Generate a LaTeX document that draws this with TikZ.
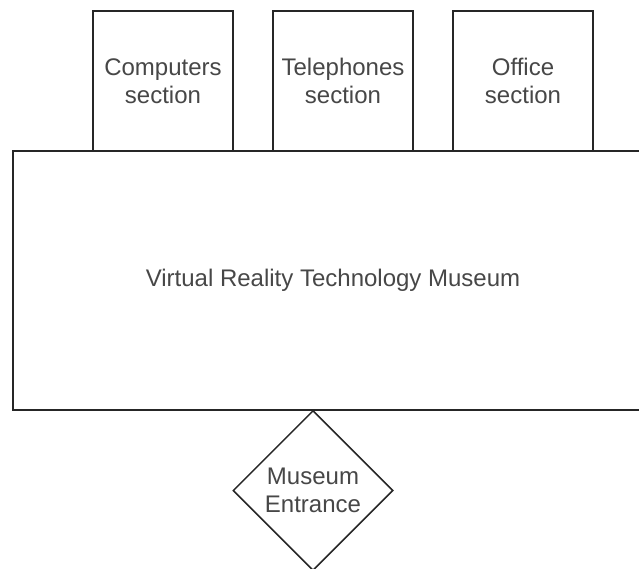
\documentclass[tikz,border=0pt]{standalone}
\usepackage{fontspec}
\setmainfont{Liberation Sans}
\usetikzlibrary{positioning, shapes.geometric}

\begin{document}
\begin{tikzpicture}[
    x=1pt, y=-1pt,
    section/.style={
      rectangle, draw=black!85, line width=1.5pt, fill=white,
      text=black!72, align=center, inner sep=0pt,
      font=\fontsize{24}{28}\selectfont,
      minimum width=140pt, minimum height=140pt,
    },
    hall/.style={
      rectangle, draw=black!85, line width=1.5pt,
      text=black!72, align=center, inner sep=0pt,
      font=\fontsize{24}{28}\selectfont,
      minimum width=640pt, minimum height=259pt,
    },
    entrance/.style={
      diamond, draw=black!85, line width=1.5pt, fill=white,
      text=black!72, align=center, inner sep=0pt,
      font=\fontsize{24}{28}\selectfont,
      minimum width=160pt, minimum height=160pt,
    },
]
\useasboundingbox (0,0) rectangle (639,569);

% Sections on top of the hall
\node[section] (computers)  at (163,81) {Computers\\section};
\node[section] (telephones) at (343,81) {Telephones\\section};
\node[section] (office)     at (523,81) {Office\\section};

% Main hall
\node[hall] (museum) at (333,280.5) {Virtual Reality Technology Museum};

% Entrance below the hall
\node[entrance] (entry) at (313,490.5) {Museum\\Entrance};
\end{tikzpicture}
\end{document}
